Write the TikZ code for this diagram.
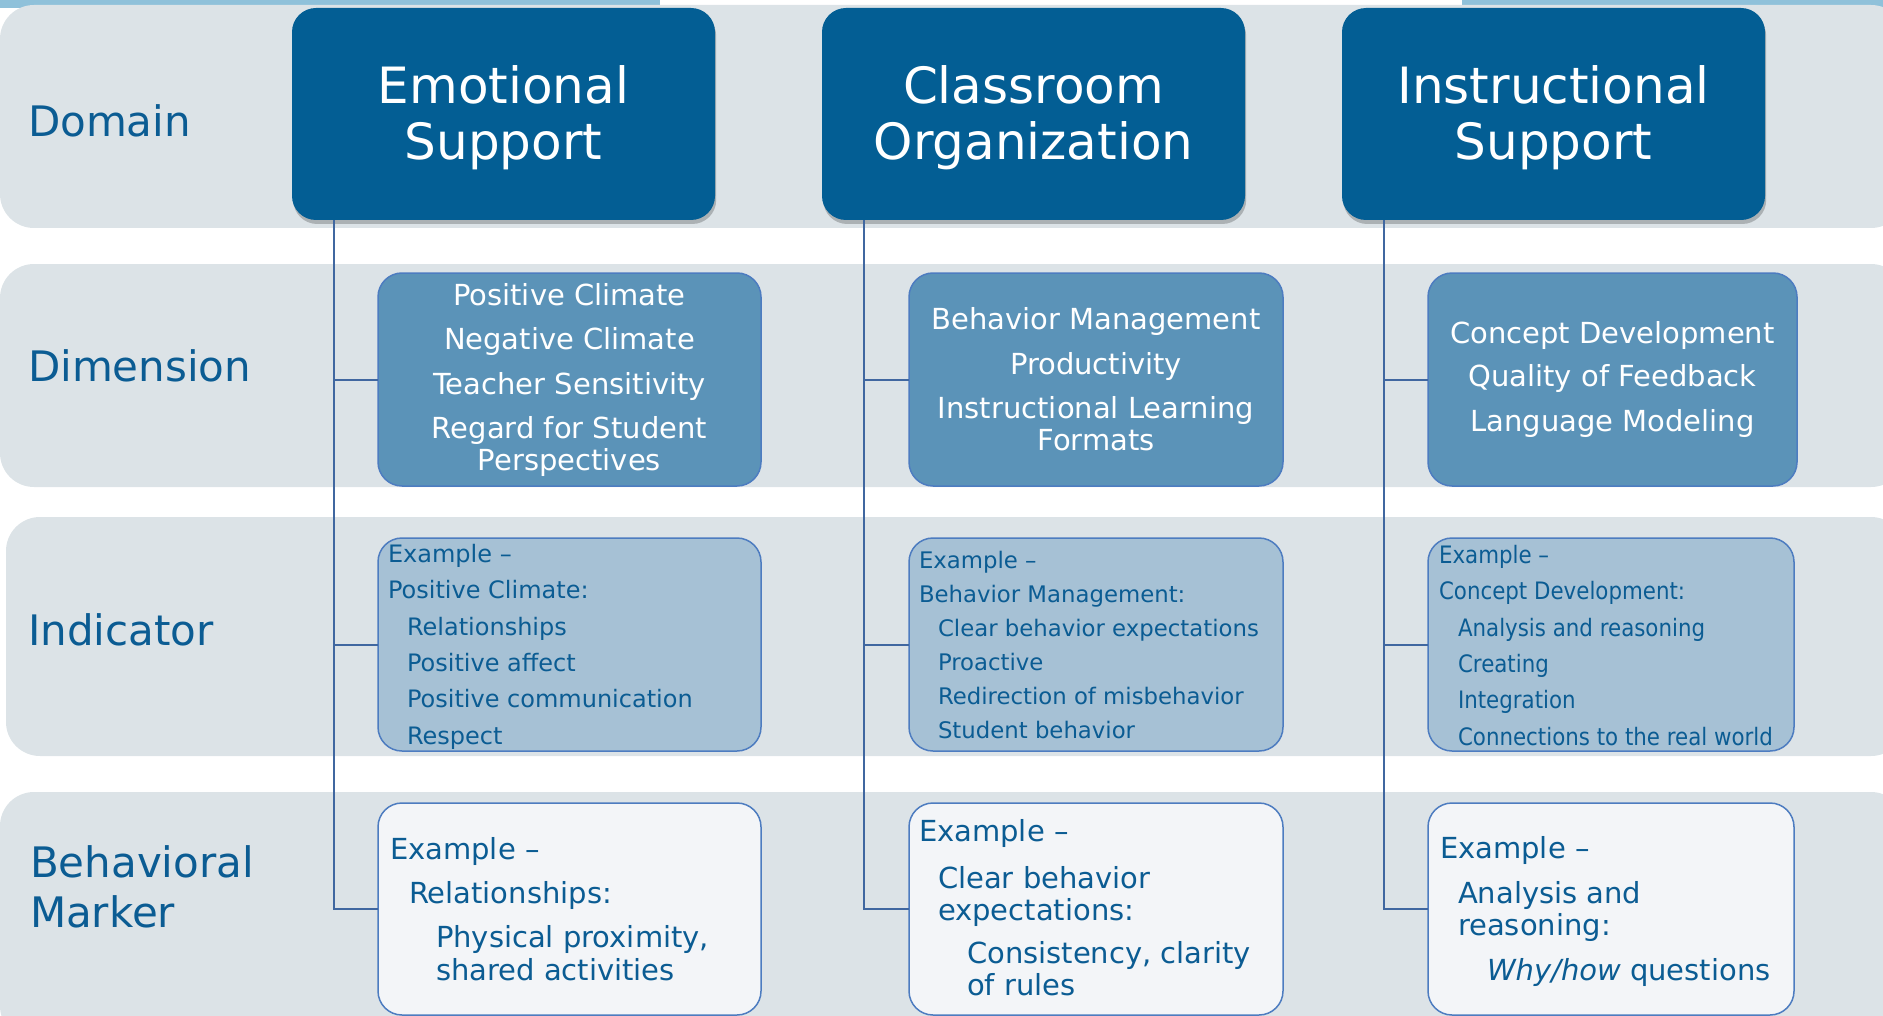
\documentclass[tikz,border=0pt]{standalone}
\usepackage{fontspec}
\setmainfont{DejaVu Sans}
\newfontfamily\narrowf[FakeStretch=0.89]{DejaVu Sans}
\usetikzlibrary{shadows}
\definecolor{bandc}{HTML}{DCE3E7}
\definecolor{stripc}{HTML}{8FC1DA}
\definecolor{domc}{HTML}{035E94}
\definecolor{dimc}{HTML}{5B93B8}
\definecolor{indc}{HTML}{A6C1D5}
\definecolor{behc}{HTML}{F3F5F8}
\definecolor{bordc}{HTML}{4D7CC0}
\definecolor{txtc}{HTML}{0B5C93}
\definecolor{connc}{HTML}{4067A0}
\newcommand{\domstrut}{\rule{0pt}{22.6pt}}
\begin{document}
\begin{tikzpicture}[x=0.5pt,y=-0.5pt,
  band/.style={fill=bandc, rounded corners=17pt},
  lbl/.style={text=txtc, font=\fontsize{21}{25}\selectfont, inner sep=0pt, outer sep=0pt, align=left},
  dombox/.style={fill=domc, rounded corners=12pt, minimum width=211.5pt, minimum height=106pt,
     inner sep=0pt, outer sep=0pt, text=white, align=center, font=\fontsize{25}{28}\selectfont,
     drop shadow={shadow xshift=0.6pt, shadow yshift=-2pt, fill=black, opacity=0.22}},
  dimbox/.style={fill=dimc, draw=bordc, line width=0.75pt, rounded corners=12pt, minimum height=106.5pt,
     inner sep=0pt, outer sep=0pt, text=white, align=center, font=\fontsize{14.5}{16}\selectfont},
  indbox/.style={fill=indc, draw=bordc, line width=0.75pt, rounded corners=12pt, minimum height=106.5pt,
     inner sep=0pt, outer sep=0pt},
  behbox/.style={fill=behc, draw=bordc, line width=0.75pt, rounded corners=12pt, minimum height=106pt,
     inner sep=0pt, outer sep=0pt},
  boxtxt/.style={text=txtc, inner sep=0pt, outer sep=0pt, align=left, anchor=north west},
  conn/.style={draw=connc, line width=1pt}
]
\useasboundingbox (0,0) rectangle (1883,1016);
% top photo strip
\fill[stripc] (0,0) rectangle (660,8);
\fill[stripc] (1462,0) rectangle (1883,8);
% bands
\fill[band] (0,5) rectangle (1905,228);
\fill[band] (0,264) rectangle (1905,487);
\fill[band] (6,517) rectangle (1905,756);
\fill[band] (0,792) rectangle (1905,1040);
% row labels
\node[lbl, anchor=base west] (lDomain) at (28,137) {Domain};
\node[lbl, anchor=base west] (lDim) at (28,381) {Dimension};
\node[lbl, anchor=base west] (lInd) at (28,645) {Indicator};
\node[lbl, anchor=north west] (lBeh) at (30,846) {Behavioral\\Marker};
% domain boxes
\node[dombox] (es) at (503.5,114) {\domstrut Emotional\\Support};
\node[dombox] (co) at (1033.5,114) {\domstrut Classroom\\Organization};
\node[dombox] (is) at (1553.5,114) {\domstrut Instructional\\Support};
\coordinate (esc) at ([xshift=21pt]es.south west);
\coordinate (coc) at ([xshift=21pt]co.south west);
\coordinate (isc) at ([xshift=21pt]is.south west);
% dimension boxes
\node[dimbox, minimum width=191.5pt] (esdim) at (569.5,379.5)
  {Positive Climate\\[6pt]Negative Climate\\[6.5pt]Teacher Sensitivity\\[6pt]Regard for Student\\Perspectives};
\node[dimbox, minimum width=187pt] (codim) at (1096,379.5)
  {Behavior Management\\[6.5pt]Productivity\\[6pt]Instructional Learning\\Formats};
\node[dimbox, minimum width=184.5pt] (isdim) at (1612.5,379.5)
  {Concept Development\\[5.5pt]Quality of Feedback\\[6.5pt]Language Modeling};
% indicator boxes
\node[indbox, minimum width=191.5pt] (esind) at (569.5,644.5) {};
\node[indbox, minimum width=187pt] (coind) at (1096,644.5) {};
\node[indbox, minimum width=183pt] (isind) at (1611,644.5) {};
% behavioral boxes
\node[behbox, minimum width=191.5pt] (esbeh) at (569.5,909) {};
\node[behbox, minimum width=187pt] (cobeh) at (1096,909) {};
\node[behbox, minimum width=183pt] (isbeh) at (1611,909) {};
% connector lines
\draw[conn] (esc) |- (esdim.west);
\draw[conn] (esc) |- (esind.west);
\draw[conn] (esc) |- (esbeh.west);
\draw[conn] (coc) |- (codim.west);
\draw[conn] (coc) |- (coind.west);
\draw[conn] (coc) |- (cobeh.west);
\draw[conn] (isc) |- (isdim.west);
\draw[conn] (isc) |- (isind.west);
\draw[conn] (isc) |- (isbeh.west);
% indicator texts
\node[boxtxt, font=\fontsize{12}{18.2}\selectfont] (tesind) at (388,544)
  {Example –\\Positive Climate:\\\hspace*{9.5pt}Relationships\\\hspace*{9.5pt}Positive affect\\\hspace*{9.5pt}Positive communication\\\hspace*{9.5pt}Respect};
\node[boxtxt, font=\fontsize{11.4}{17}\selectfont] (tcoind) at (919,551)
  {Example –\\Behavior Management:\\\hspace*{9.5pt}Clear behavior expectations\\\hspace*{9.5pt}Proactive\\\hspace*{9.5pt}Redirection of misbehavior\\\hspace*{9.5pt}Student behavior};
\node[boxtxt, font=\narrowf\fontsize{12}{18.2}\selectfont] (tisind) at (1439,545)
  {Example –\\Concept Development:\\\hspace*{9.5pt}Analysis and reasoning\\\hspace*{9.5pt}Creating\\\hspace*{9.5pt}Integration\\\hspace*{9.5pt}Connections to the real world};
% behavioral texts
\node[boxtxt, font=\fontsize{14.5}{16.5}\selectfont] (tesbeh) at (390,837)
  {Example –\\[5.5pt]\hspace*{9.5pt}Relationships:\\[5.5pt]\hspace*{23pt}Physical proximity,\\\hspace*{23pt}shared activities};
\node[boxtxt, font=\fontsize{14.5}{16}\selectfont] (tcobeh) at (919,819)
  {Example –\\[7.5pt]\hspace*{9.5pt}Clear behavior\\\hspace*{9.5pt}expectations:\\[5.5pt]\hspace*{24pt}Consistency, clarity\\\hspace*{24pt}of rules};
\node[boxtxt, font=\fontsize{14.5}{16}\selectfont] (tisbeh) at (1440,836)
  {Example –\\[6.5pt]\hspace*{9pt}Analysis and\\\hspace*{9pt}reasoning:\\[6.5pt]\hspace*{23.5pt}\textit{Why/how} questions};
\end{tikzpicture}
\end{document}
